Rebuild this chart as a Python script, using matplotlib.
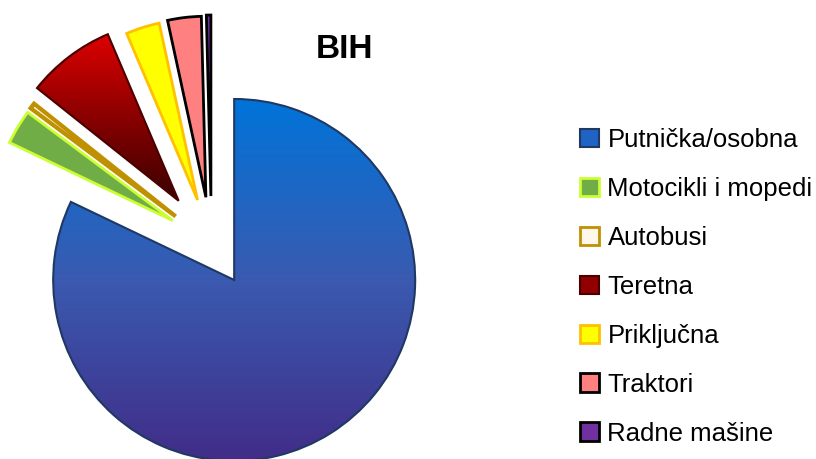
import numpy as np
import matplotlib
matplotlib.use("Agg")
from matplotlib import pyplot as plt
from matplotlib.patches import Patch
from matplotlib.colors import LinearSegmentedColormap

plt.rcParams['font.family'] = ['Liberation Sans', 'DejaVu Sans']

# vehicle categories and their share (%)
labels = ['Putnička/osobna', 'Motocikli i mopedi', 'Autobusi', 'Teretna',
          'Priključna', 'Traktori', 'Radne mašine']
shares = [82.1, 3.1, 0.5, 7.9, 3.0, 3.0, 0.4]

faces = ['#1f63c4', '#70ad47', '#fff8ea', '#900000', '#ffff00', '#ff8080', '#7030a0']
edges = ['#1f3864', '#ccff33', '#bf9000', '#4a0000', '#ffc000', '#000000', '#000000']
widths = [1.5, 2.0, 3.0, 1.5, 2.0, 2.0, 2.0]
explode_frac = [0.235, 0.25, 0.25, 0.30, 0.255, 0.26, 0.265]

# vertical gradients for some slices
gradients = {
    0: LinearSegmentedColormap.from_list('blue', ['#412d88', '#3a5ab0', '#0074d9']),
    3: LinearSegmentedColormap.from_list('red', ['#3a0000', '#8a0000', '#dc0000']),
}

R = 181
fig = plt.figure(figsize=(8.16, 4.59), dpi=100)
ax = fig.add_axes([0, 0, 1, 1])

# matplotlib explode is in data units, so scale by radius
wedges, _ = ax.pie(shares, startangle=90, counterclock=False,
                   explode=[e * R for e in explode_frac],
                   center=(211.5, 215), radius=R)

for i, w in enumerate(wedges):
    w.set_facecolor(faces[i])
    w.set_edgecolor(edges[i])
    w.set_linewidth(widths[i])
    w.set_joinstyle('miter')
    if i in gradients:
        bb = w.get_path().get_extents(w.get_transform())
        x0, y0, x1, y1 = ax.transData.inverted().transform(
            [[bb.x0, bb.y0], [bb.x1, bb.y1]]).ravel()
        grad = np.linspace(0, 1, 256).reshape(-1, 1)
        im = ax.imshow(grad, cmap=gradients[i], origin='lower', aspect='auto',
                       extent=(x0, x1, y0, y1), zorder=w.get_zorder() - 0.5)
        im.set_clip_path(w)
        w.set_facecolor('none')

ax.set_xlim(0, 816)
ax.set_ylim(0, 459)
ax.set_aspect('equal')
ax.axis('off')

fig.text(345 / 816, 1 - 50 / 459, 'BIH', ha='center', va='center',
         fontsize=24, fontweight='bold')

handles = [Patch(facecolor=faces[i], edgecolor=edges[i],
                 linewidth=min(widths[i], 2.0)) for i in range(len(labels))]
ax.legend(handles, labels, loc='upper left', bbox_to_anchor=(580 / 816, 1 - 128 / 459),
          bbox_transform=fig.transFigure, frameon=False, fontsize=18.5,
          handlelength=0.72, handleheight=0.72, handletextpad=0.35,
          labelspacing=0.97, borderpad=0, borderaxespad=0)

plt.savefig('out.png', dpi=100)
